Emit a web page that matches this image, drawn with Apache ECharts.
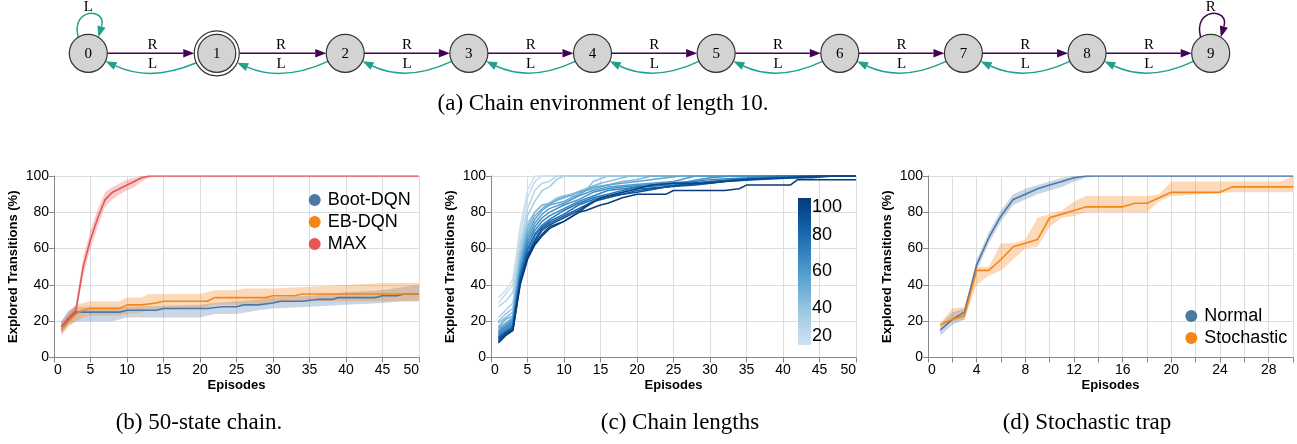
<!DOCTYPE html>
<html><head><meta charset="utf-8">
<script src="https://cdn.jsdelivr.net/npm/echarts@6/dist/echarts.min.js"></script>
<style>html,body{margin:0;padding:0;background:#fff}#c{width:1297px;height:444px}</style>
</head><body><div id="c"></div>
<script>
// ---------- (a) chain environment ----------
const chainStates = ['0','1','2','3','4','5','6','7','8','9'];
const acceptingStates = ['1'];
const nextOnR = [1,2,3,4,5,6,7,8,9,9];
const nextOnL = [0,0,1,2,3,4,5,6,7,8];

// ---------- (b) 50-state chain: [episode, value] and bands [episode, low, high] ----------
const bootMean = [[1,17],[2,21],[3,25],[9,25],[10,26],[14,26],[15,27],[21,27],[23,28],[25,28],[26,29],[28,29],[30,30],[31,31],[34,31],[36,32],[38,32],[39,33],[44,33],[45,34],[47,34],[48,35],[50,35]];
const bootBand = [[1,13,20],[2,18,26],[3,20,28],[8,20,28],[10,22,28],[20,22,29],[22,24,30],[25,24,31],[28,26,32],[30,27,33],[35,28,34],[40,29,36],[45,30,37],[48,31,39],[50,31,40]];
const ebMean = [[1,15],[2,20],[3,24],[4,26],[5,27],[9,27],[10,29],[12,29],[14,30],[15,31],[21,31],[22,33],[29,33],[30,34],[33,34],[34,35],[50,35]];
const ebBand = [[1,12,18],[2,17,24],[3,20,29],[4,22,30],[5,23,31],[9,23,31],[10,24,33],[12,25,33],[13,26,35],[20,27,35],[22,29,37],[25,29,37],[26,29,38],[30,30,38],[35,31,39],[40,31,40],[45,31,41],[50,31,41]];
const maxMean = [[1,17],[2,22],[3,26],[4,50],[5,65],[6,77],[7,87],[8,91],[9,93],[10,95],[11,97],[12,99],[13,100],[50,100]];
const maxBand = [[1,14,20],[2,19,25],[3,23,29],[4,45,55],[5,60,70],[6,72,82],[7,83,91],[8,87,94],[9,90,96],[10,92,98],[11,94,99],[12,97,100],[13,99,100],[14,100,100],[50,100,100]];

// ---------- (c) chain lengths ----------
const chainLengths = [20,25,30,35,40,45,50,55,60,65,70,75,80,85,90,95,100];
const lengthCurves = [
 [[1,33],[2,37],[3,43],[4,72],[5,92],[6,100],[50,100]],
 [[1,30],[2,35],[3,40],[4,68],[5,88],[6,97],[7,100],[50,100]],
 [[1,28],[2,31],[3,36],[4,63],[5,82],[6,92],[7,96],[8,97],[9,100],[50,100]],
 [[1,22],[2,26],[3,30],[4,60],[5,78],[6,86],[7,92],[8,94],[9,98],[10,100],[50,100]],
 [[1,20],[2,24],[3,27],[4,57],[5,74],[6,80],[7,84],[8,85],[9,88],[10,89],[12,89],[13,92],[14,97],[16,100],[50,100]],
 [[1,19],[2,22],[3,25],[4,54],[5,72],[6,80],[7,84],[8,84],[9,87],[10,89],[11,90],[13,93],[15,96],[17,98],[19,100],[50,100]],
 [[1,17],[2,21],[3,23],[4,52],[5,70],[6,78],[7,82],[8,85],[10,88],[12,91],[14,93],[16,95],[18,97],[20,98],[22,100],[50,100]],
 [[1,16],[2,19],[3,22],[4,50],[5,68],[6,76],[7,81],[8,84],[10,86],[12,90],[14,94],[16,95],[18,96],[20,97],[24,99],[26,100],[50,100]],
 [[1,15],[2,18],[3,21],[4,49],[5,66],[6,74],[7,79],[8,82],[10,85],[12,89],[14,92],[16,94],[19,95],[22,96],[25,97],[28,100],[50,100]],
 [[1,14],[2,17],[3,20],[4,47],[5,64],[6,72],[7,77],[8,80],[10,84],[12,87],[14,91],[16,93],[18,94],[21,95],[24,96],[27,97],[30,99],[33,100],[50,100]],
 [[1,13],[2,16],[3,19],[4,46],[5,62],[6,70],[7,75],[8,78],[10,82],[12,86],[14,89],[16,92],[18,93],[20,94],[23,95],[26,96],[30,98],[35,99],[38,100],[50,100]],
 [[1,12],[2,15],[3,18],[4,45],[5,60],[6,68],[7,73],[8,76],[10,81],[12,85],[14,88],[16,90],[18,92],[20,94],[25,95],[28,96],[33,98],[37,99],[40,100],[50,100]],
 [[1,11],[2,14],[3,17],[4,44],[5,59],[6,67],[7,72],[8,75],[10,79],[12,84],[14,87],[16,89],[18,91],[20,93],[24,94],[27,96],[30,97],[34,98],[39,99],[43,100],[50,100]],
 [[1,11],[2,14],[3,16],[4,43],[5,57],[6,65],[7,71],[8,74],[10,78],[12,82],[14,86],[16,89],[18,90],[20,92],[24,94],[28,95],[32,97],[36,98],[42,99],[46,100],[50,100]],
 [[1,10],[2,13],[3,16],[4,42],[5,56],[6,64],[7,70],[8,73],[10,77],[12,81],[14,86],[16,88],[18,90],[20,91],[24,94],[26,95],[30,96],[34,98],[40,99],[44,99],[47,100],[50,100]],
 [[1,9],[2,13],[3,15],[4,41],[5,55],[6,63],[7,68],[8,72],[10,75],[12,80],[13,83],[15,88],[17,90],[19,92],[22,95],[25,96],[29,96],[32,97],[35,98],[40,99],[45,100],[50,100]],
 [[1,8],[2,12],[3,15],[4,40],[5,54],[6,62],[7,67],[8,71],[10,75],[12,80],[13,81],[15,84],[16,85],[18,88],[20,90],[24,90],[25,92],[32,92],[34,93],[35,95],[41,95],[42,98],[50,98]]
];
const colorbarTicks = [20,40,60,80,100];

// ---------- (d) stochastic trap ----------
const normalMean = [[1,15],[2,21],[3,25],[4,51],[5,66],[6,78],[7,87],[8,90],[9,93],[10,95],[11,97],[12,99],[13,100],[30,100]];
const normalBand = [[1,12,18],[2,18,25],[3,21,27],[4,48,54],[5,63,69],[6,75,81],[7,84,90],[8,87,93],[9,90,95],[10,92,97],[11,94,99],[12,97,100],[13,99,100],[14,100,100],[30,100,100]];
const stochMean = [[1,18],[2,21],[3,23],[4,48],[5,48],[6,54],[7,61],[8,63],[9,65],[10,77],[11,79],[12,81],[13,83],[16,83],[17,85],[18,85],[19,88],[20,91],[24,91],[25,94],[30,94]];
const stochBand = [[1,17,19],[2,20,27],[3,21,28],[4,40,50],[5,45,50],[6,48,63],[7,54,63],[8,60,65],[9,61,77],[10,72,79],[11,77,81],[12,78,86],[13,80,89],[18,80,89],[19,86,90],[20,89,97],[25,91,97],[29,91,97],[30,91,100]];

// ---------- styling ----------
const SANS = '"Liberation Sans", Arial, Helvetica, sans-serif';
const SERIF = '"Liberation Serif", "Times New Roman", serif';
const C_BLUE = '#4c78a8', C_ORANGE = '#f58518', C_RED = '#e45756';
const C_R = '#440154', C_L = '#23a08d';
const blues = ['#cfe1f2','#bed8ec','#a8cee5','#8fc1de','#74b2d7','#5ba3cf','#4592c6','#3181bd','#206fb2','#125ca4','#0a4a90','#083a7a'];

function hex2rgb(h){return [parseInt(h.substr(1,2),16),parseInt(h.substr(3,2),16),parseInt(h.substr(5,2),16)];}
function blueAt(t){
  const n = blues.length-1, p = Math.max(0,Math.min(1,t))*n;
  const i = Math.min(Math.floor(p), n-1), f = p-i;
  const a = hex2rgb(blues[i]), b = hex2rgb(blues[i+1]);
  return 'rgb(' + a.map((v,k)=>Math.round(v+(b[k]-v)*f)).join(',') + ')';
}

// state positions along the chain (accepting state's double ring takes a bit more room)
const isAccepting = s => acceptingStates.indexOf(s) >= 0;
const stateX = [];
chainStates.forEach((s,i)=>{
  if (i===0) { stateX.push(0); return; }
  const extra = (isAccepting(s) || isAccepting(chainStates[i-1])) ? 0.039 : 0;
  stateX.push(stateX[i-1] + 1 + extra);
});
const R_NODE = 19, R_OUTER = 22.5;
const nodeRadius = i => isAccepting(chainStates[i]) ? R_OUTER : R_NODE;

const edges = [];
chainStates.forEach((s,i)=>{
  edges.push({from:i, to:nextOnR[i], action:'R'});
  edges.push({from:i, to:nextOnL[i], action:'L'});
});

function norm(v){const l=Math.hypot(v[0],v[1]);return [v[0]/l,v[1]/l];}
function arrowHead(tip, dir, len, hw, color){
  const bx = tip[0]-dir[0]*len, by = tip[1]-dir[1]*len, px = -dir[1], py = dir[0];
  return {type:'polygon', shape:{points:[tip,[bx+px*hw,by+py*hw],[bx-px*hw,by-py*hw]]}, style:{fill:color}};
}
function edgeLabel(x,y,t){
  return {type:'text', style:{x:x, y:y, text:t, textAlign:'center', textVerticalAlign:'middle', font:'15px ' + SERIF, fill:'#000'}};
}
const AL = 11, AW = 4.2, LW = 1.5;

function renderEdge(params, api){
  const e = edges[params.dataIndex];
  const c0 = api.coord([stateX[e.from],0]), c1 = api.coord([stateX[e.to],0]);
  const r0 = nodeRadius(e.from), r1 = nodeRadius(e.to);
  const col = e.action==='R' ? C_R : C_L;
  const ch = [];
  if (e.from === e.to) {
    const a = 58*Math.PI/180;
    const s = [c0[0]-r0*Math.cos(a), c0[1]-r0*Math.sin(a)];
    const tip = [c0[0]+r0*Math.cos(a), c0[1]-r0*Math.sin(a)];
    const cp1 = [c0[0]-18, c0[1]-46], cp2 = [c0[0]+19, c0[1]-46];
    const dir = norm([tip[0]-cp2[0], tip[1]-cp2[1]]);
    const base = [tip[0]-dir[0]*AL, tip[1]-dir[1]*AL];
    ch.push({type:'bezierCurve', shape:{x1:s[0],y1:s[1],cpx1:cp1[0],cpy1:cp1[1],cpx2:cp2[0],cpy2:cp2[1],x2:base[0],y2:base[1]}, style:{stroke:col,lineWidth:LW,fill:'none'}});
    ch.push(arrowHead(tip,dir,AL,AW,col));
    ch.push(edgeLabel(c0[0], c0[1]-46, e.action));
  } else if (e.action === 'R') {
    const s = [c0[0]+r0, c0[1]], tip = [c1[0]-r1, c1[1]];
    ch.push({type:'line', shape:{x1:s[0],y1:s[1],x2:tip[0]-AL,y2:tip[1]}, style:{stroke:col,lineWidth:LW}});
    ch.push(arrowHead(tip,[1,0],AL,AW,col));
    ch.push(edgeLabel((c0[0]+c1[0])/2, c0[1]-8.5, e.action));
  } else {
    const a = 25*Math.PI/180;
    const s = [c0[0]-r0*Math.cos(a), c0[1]+r0*Math.sin(a)];
    const tip = [c1[0]+r1*Math.cos(a), c1[1]+r1*Math.sin(a)];
    const cp = [(s[0]+tip[0])/2, c0[1]+29];
    const dir = norm([tip[0]-cp[0], tip[1]-cp[1]]);
    const base = [tip[0]-dir[0]*AL, tip[1]-dir[1]*AL];
    ch.push({type:'bezierCurve', shape:{x1:s[0],y1:s[1],cpx1:cp[0],cpy1:cp[1],x2:base[0],y2:base[1]}, style:{stroke:col,lineWidth:LW,fill:'none'}});
    ch.push(arrowHead(tip,dir,AL,AW,col));
    ch.push(edgeLabel((c0[0]+c1[0])/2, c0[1]+10.5, e.action));
  }
  return {type:'group', children:ch};
}

function renderNode(params, api){
  const i = params.dataIndex;
  const c = api.coord([stateX[i],0]);
  const ch = [];
  if (isAccepting(chainStates[i])) {
    ch.push({type:'circle', shape:{cx:c[0],cy:c[1],r:R_OUTER}, style:{fill:'#fff', stroke:'#333', lineWidth:1.2}});
  }
  ch.push({type:'circle', shape:{cx:c[0],cy:c[1],r:R_NODE}, style:{fill:'#d3d3d3', stroke:'#333', lineWidth:1.2}});
  ch.push({type:'text', style:{x:c[0], y:c[1]+0.5, text:chainStates[i], textAlign:'center', textVerticalAlign:'middle', font:'15px ' + SERIF, fill:'#000'}});
  return {type:'group', children:ch};
}

function bandSeries(band, color, xi, name){
  return {
    type:'custom', name:name, xAxisIndex:xi, yAxisIndex:xi, z:1, silent:true,
    data: band.map(d=>[d[0],d[1],d[2]]),
    encode:{x:0, y:[1,2]},
    renderItem:function(params, api){
      if (params.dataIndex !== 0) return null;
      const up = band.map(d=>api.coord([d[0],d[2]]));
      const lo = band.map(d=>api.coord([d[0],d[1]])).reverse();
      return {type:'polygon', shape:{points:up.concat(lo)}, style:{fill:color, opacity:0.3}};
    }
  };
}
function lineSeries(data, color, xi, name, width){
  return {type:'line', name:name, xAxisIndex:xi, yAxisIndex:xi, data:data, showSymbol:false, symbol:'circle',
    itemStyle:{color:color}, lineStyle:{color:color, width:width||1.6}, z:3, silent:true};
}

const plotGrids = [
  {left:54, top:176, width:365, height:181.5},
  {left:491, top:176, width:365, height:181.5},
  {left:928, top:176, width:365, height:181.5}
];
const grids = [{left:88.3, width:1122.4, top:33.3, height:40}]
  .concat(plotGrids)
  .concat([{left:798, top:198, width:13, height:147}]);

function xAx(gi, max, interval, fmt){
  return {type:'value', gridIndex:gi, min:0, max:max, interval:interval,
    name:'Episodes', nameLocation:'middle', nameGap:21,
    nameTextStyle:{fontFamily:SANS, fontWeight:'bold', fontSize:13, color:'#000'},
    axisLine:{show:true, onZero:false, lineStyle:{color:'#888', width:1}},
    axisTick:{show:true, length:5, lineStyle:{color:'#888'}},
    splitLine:{show:true, lineStyle:{color:'#ddd', width:1}},
    axisLabel:{fontFamily:SANS, fontSize:14, color:'#000', margin:6, alignMinLabel:'left', alignMaxLabel:'right',
      showMinLabel:true, showMaxLabel:true, hideOverlap:false, formatter:fmt || (v=>String(v))}
  };
}
function yAx(gi){
  return {type:'value', gridIndex:gi, min:0, max:100, interval:20,
    name:'Explored Transitions (%)', nameLocation:'middle', nameGap:34, nameRotate:90,
    nameTextStyle:{fontFamily:SANS, fontWeight:'bold', fontSize:13, color:'#000'},
    axisLine:{show:true, lineStyle:{color:'#888', width:1}},
    axisTick:{show:true, length:5, lineStyle:{color:'#888'}},
    splitLine:{show:true, lineStyle:{color:'#ddd', width:1}},
    axisLabel:{fontFamily:SANS, fontSize:14, color:'#000', margin:5}
  };
}

const cMin = Math.min.apply(null, chainLengths), cMax = Math.max.apply(null, chainLengths);
const seriesC = chainLengths.map((L,k)=>lineSeries(lengthCurves[k], blueAt((L-cMin)/(cMax-cMin)), 2, 'len'+L, 1.5));

const series = [
  {type:'custom', xAxisIndex:0, yAxisIndex:0, data:edges.map(e=>[stateX[e.from], stateX[e.to]]), renderItem:renderEdge, clip:false, silent:true, z:2},
  {type:'custom', xAxisIndex:0, yAxisIndex:0, data:chainStates.map((s,i)=>[stateX[i],0]), renderItem:renderNode, clip:false, silent:true, z:3},
  bandSeries(bootBand, C_BLUE, 1, 'bootBand'),
  bandSeries(ebBand, C_ORANGE, 1, 'ebBand'),
  bandSeries(maxBand, C_RED, 1, 'maxBand'),
  lineSeries(bootMean, C_BLUE, 1, 'Boot-DQN'),
  lineSeries(ebMean, C_ORANGE, 1, 'EB-DQN'),
  lineSeries(maxMean, C_RED, 1, 'MAX'),
].concat(seriesC).concat([
  {type:'custom', xAxisIndex:4, yAxisIndex:4, data:[[0,cMin],[1,cMax]], silent:true, z:5,
    renderItem:function(params, api){
      if (params.dataIndex !== 0) return null;
      const p0 = api.coord([0,cMax]), p1 = api.coord([1,cMin]);
      const stops = blues.map((c,k)=>({offset:k/(blues.length-1), color:c}));
      return {type:'rect', shape:{x:p0[0], y:p0[1], width:p1[0]-p0[0], height:p1[1]-p0[1]},
        style:{fill:new echarts.graphic.LinearGradient(0,1,0,0,stops)}};
    }},
  bandSeries(normalBand, C_BLUE, 3, 'normalBand'),
  bandSeries(stochBand, C_ORANGE, 3, 'stochBand'),
  lineSeries(normalMean, C_BLUE, 3, 'Normal'),
  lineSeries(stochMean, C_ORANGE, 3, 'Stochastic')
]);

const legendBase = {orient:'vertical', icon:'circle', itemWidth:16, itemHeight:12, itemGap:0, selectedMode:false,
  textStyle:{fontFamily:SANS, fontSize:18, color:'#000', lineHeight:22}};

const CAP = '23px ' + SERIF;
const option = {
  animation:false,
  backgroundColor:'#fff',
  grid:grids,
  xAxis:[
    {type:'value', gridIndex:0, min:0, max:stateX[stateX.length-1], show:false},
    xAx(1,50,5), xAx(2,50,5), xAx(3,30,2, v=> (v%4===0 ? String(v) : '')),
    {type:'value', gridIndex:4, min:0, max:1, show:false}
  ],
  yAxis:[
    {type:'value', gridIndex:0, min:-1, max:1, show:false},
    yAx(1), yAx(2), yAx(3),
    {type:'value', gridIndex:4, min:cMin, max:cMax, position:'right', interval:20,
      axisLine:{show:false}, axisTick:{show:false}, splitLine:{show:false},
      axisLabel:{fontFamily:SANS, fontSize:18, color:'#000', margin:1,
        verticalAlignMinLabel:'bottom', verticalAlignMaxLabel:'top',
        formatter:v=> colorbarTicks.indexOf(v)>=0 ? String(v) : ''}}
  ],
  legend:[
    Object.assign({}, legendBase, {data:['Boot-DQN','EB-DQN','MAX'], left:303.7, top:184}),
    Object.assign({}, legendBase, {data:['Normal','Stochastic'], left:1180.3, top:300})
  ],
  graphic:[
    {type:'text', x:603, y:104, style:{text:'(a) Chain environment of length 10.', font:CAP, fill:'#000', textAlign:'center', textVerticalAlign:'middle'}},
    {type:'text', x:199, y:423, style:{text:'(b) 50-state chain.', font:CAP, fill:'#000', textAlign:'center', textVerticalAlign:'middle'}},
    {type:'text', x:680, y:423, style:{text:'(c) Chain lengths', font:CAP, fill:'#000', textAlign:'center', textVerticalAlign:'middle'}},
    {type:'text', x:1087, y:423, style:{text:'(d) Stochastic trap', font:CAP, fill:'#000', textAlign:'center', textVerticalAlign:'middle'}}
  ],
  series:series
};
const chart = echarts.init(document.getElementById('c'), null, {renderer:'canvas'});
chart.setOption(option);
</script></body></html>
